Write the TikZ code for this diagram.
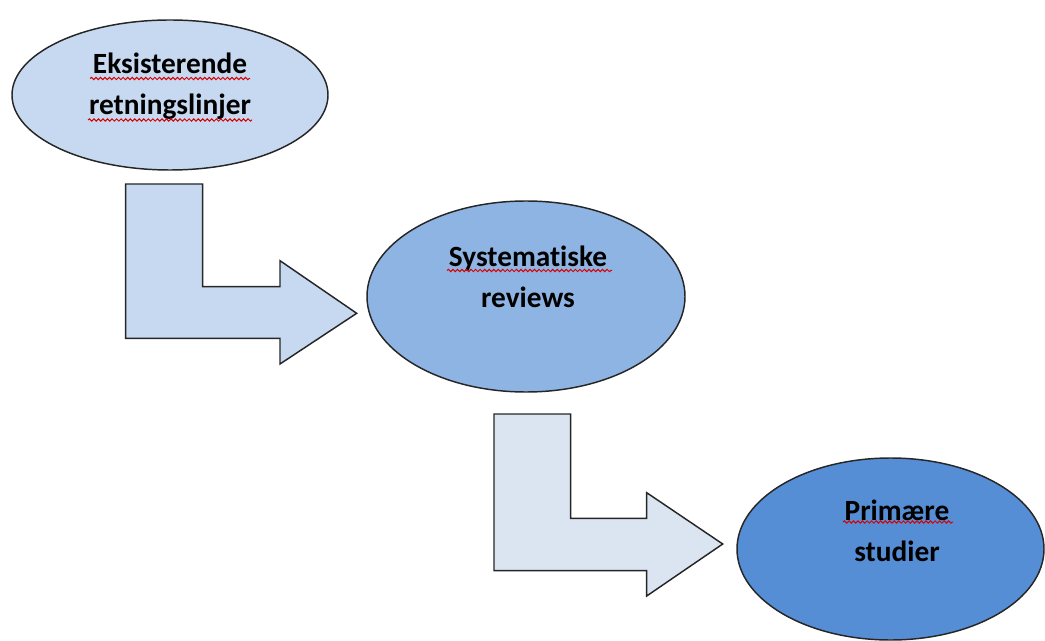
\documentclass[tikz,border=0pt]{standalone}
\usepackage{fontspec}
\setmainfont[Ligatures={NoCommon}]{Carlito}
\usepackage{xcolor}
\usepackage{tikz}
\usetikzlibrary{shapes.geometric,decorations.pathmorphing}

\definecolor{blueA}{HTML}{C6D9F1}
\definecolor{blueB}{HTML}{8EB4E3}
\definecolor{blueC}{HTML}{558ED5}
\definecolor{blueD}{HTML}{DBE5F1}

\tikzset{
  oval/.style={ellipse,draw=black!85,line width=1.1pt,inner sep=0pt,outer sep=0pt},
  bentarrow/.style={draw=black!85,line width=1.1pt,line join=miter},
  label text/.style={align=center,font=\fontsize{22}{31}\selectfont\bfseries},
  spell/.style={draw=red!85!black,line width=0.75pt,decorate,decoration={snake,segment length=3.4pt,amplitude=0.85pt}}
}

\begin{document}
\begin{tikzpicture}[x=0.75pt,y=0.75pt,yscale=-1,xscale=1]
\useasboundingbox (0,0) rectangle (1045,641);

%Shape: Ellipse [eksisterende]
\node [oval,fill=blueA,minimum width=237pt,minimum height=112.5pt] (eks) at (170,95) {};
%Shape: Ellipse [systematiske]
\node [oval,fill=blueB,minimum width=238.5pt,minimum height=143.25pt] (sys) at (526,296.5) {};
%Shape: Ellipse [primaere]
\node [oval,fill=blueC,minimum width=230.25pt,minimum height=136.5pt] (prim) at (890.5,549) {};

%Shape: Bent Arrow [eks -> sys]
\draw [bentarrow,fill=blueA] (125.7,184) -- (202.7,184) -- (202.7,286.7) -- (280,286.7) -- (280,260.7) -- (356.7,313.3) -- (280,364) -- (280,338.3) -- (125.7,338.3) -- cycle ;
%Shape: Bent Arrow [sys -> prim]
\draw [bentarrow,fill=blueD] (494,414) -- (570.7,414) -- (570.7,518.3) -- (646.7,518.3) -- (646.7,492.7) -- (722.7,544) -- (646.7,596) -- (646.7,570.7) -- (494,570.7) -- cycle ;

% Text Node
\node [label text] (eksText) at (170,86) {Eksisterende\\retningslinjer};
% Text Node
\node [label text] (sysText) at (528,277) {Systematiske\\reviews};
% Text Node
\node [label text] (primText) at (897,531) {Primære\\studier};

%Spelling marks
\draw [spell] (90,78.5) -- (250,78.5) ;
\draw [spell] (88,120) -- (252,120) ;
\draw [spell] (447,270.5) -- (612,270.5) ;
\draw [spell] (843,522) -- (953,522) ;
\end{tikzpicture}
\end{document}
